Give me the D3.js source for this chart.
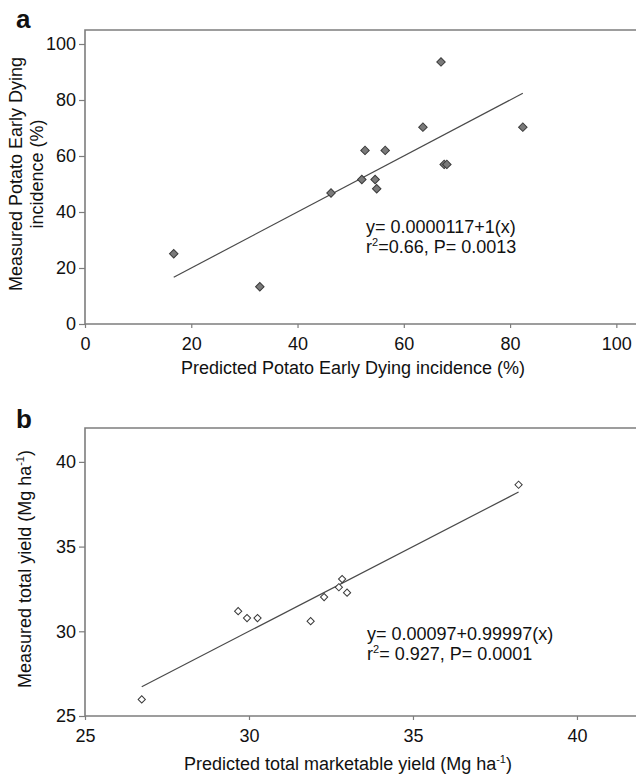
<!DOCTYPE html>
<html>
<head>
<meta charset="utf-8">
<script src="https://cdn.jsdelivr.net/npm/d3@7"></script>
<style>
  html, body { margin: 0; padding: 0; background: white; }
  svg { display: block; font-family: "Liberation Sans", Arial, sans-serif; }
</style>
</head>
<body>
<div id="chart"></div>
<script>
  // panel a: potato early dying incidence (%)
  var predictedPED = [16.7, 32.9, 46.3, 52.1, 52.7, 54.6, 54.9, 56.5, 63.6, 67.0, 67.6, 68.1, 82.4];
  var measuredPED  = [25.1, 13.3, 46.8, 51.6, 62.0, 51.6, 48.3, 62.0, 70.3, 93.6, 57.0, 57.0, 70.3];
  var pedTicks = [0, 20, 40, 60, 80, 100];
  var pedFit = { intercept: 0.0000117, slope: 1 };
  var pedStats = ["y= 0.0000117+1(x)", "=0.66, P= 0.0013"];

  // panel b: total yield (Mg ha-1)
  var predictedYield = [26.73, 29.67, 29.94, 30.26, 31.88, 32.29, 32.74, 32.84, 32.99, 38.22];
  var measuredYield  = [25.98, 31.19, 30.78, 30.78, 30.60, 32.02, 32.60, 33.08, 32.28, 38.65];
  var yieldTicks = [25, 30, 35, 40];
  var yieldFit = { intercept: 0.00097, slope: 0.99997 };
  var yieldStats = ["y= 0.00097+0.99997(x)", "= 0.927, P= 0.0001"];

  var
    WIDTH = 636,
    HEIGHT = 775,
    FRAME_COLOR = "#7d7d7d",
    LINE_COLOR = "#4a4a4a",
    TEXT_COLOR = "#111",
    FONT_SIZE = 18,
    PLOT_LEFT = 85;

  var svg = d3.select("#chart").append("svg")
    .attr("width", WIDTH)
    .attr("height", HEIGHT);

  svg.append("rect").attr("width", WIDTH).attr("height", HEIGHT).attr("fill", "white");

  function drawPanel(opt){
    var
      g = svg.append("g"),
      x = d3.scaleLinear().domain(opt.xDomain).range([PLOT_LEFT, WIDTH]),
      y = d3.scaleLinear().domain(opt.yDomain).range([opt.bottom, opt.top]);

    // frame: top, left and bottom edges (right edge falls outside the picture)
    g.append("path")
      .attr("d", "M" + WIDTH + "," + opt.top + "H" + PLOT_LEFT + "V" + opt.bottom + "H" + WIDTH)
      .attr("fill", "none")
      .attr("stroke", FRAME_COLOR)
      .attr("stroke-width", 1.6);

    var xAxis = g.append("g")
      .attr("transform", "translate(0," + opt.bottom + ")")
      .call(d3.axisBottom(x).tickValues(opt.ticks).tickSize(4).tickPadding(9).tickFormat(d3.format("d")));
    var yAxis = g.append("g")
      .attr("transform", "translate(" + PLOT_LEFT + ",0)")
      .call(d3.axisLeft(y).tickValues(opt.ticks).tickSize(6).tickPadding(3).tickFormat(d3.format("d")));

    [xAxis, yAxis].forEach(function(axis){
      axis.select(".domain").remove();
      axis.selectAll("line").attr("stroke", FRAME_COLOR).attr("stroke-width", 1.2);
      axis.selectAll("text")
        .attr("fill", TEXT_COLOR)
        .style("font-size", FONT_SIZE + "px")
        .style("font-family", '"Liberation Sans", Arial, sans-serif');
    });

    // regression line
    var xs = d3.extent(opt.px);
    g.append("line")
      .attr("x1", x(xs[0]))
      .attr("y1", y(opt.fit.intercept + opt.fit.slope * xs[0]))
      .attr("x2", x(xs[1]))
      .attr("y2", y(opt.fit.intercept + opt.fit.slope * xs[1]))
      .attr("stroke", LINE_COLOR)
      .attr("stroke-width", 1.2);

    // diamonds
    var diamond = d3.symbol().type(d3.symbolSquare).size(opt.markerSize);
    g.selectAll("path.pt")
      .data(opt.px)
      .enter().append("path")
      .attr("class", "pt")
      .attr("d", diamond)
      .attr("transform", function(d, i){
        return "translate(" + x(d) + "," + y(opt.py[i]) + ") rotate(45)";
      })
      .attr("fill", opt.markerFill)
      .attr("stroke", "#3a3a3a")
      .attr("stroke-width", 1);

    // statistics
    var stats = g.append("text")
      .attr("fill", TEXT_COLOR)
      .style("font-size", FONT_SIZE + "px");
    stats.append("tspan").attr("x", opt.statsX).attr("y", opt.statsY).text(opt.stats[0]);
    var second = stats.append("tspan").attr("x", opt.statsX).attr("y", opt.statsY + 20);
    second.append("tspan").text("r");
    second.append("tspan").attr("dy", -7).style("font-size", "11px").text("2");
    second.append("tspan").attr("dy", 7).text(opt.stats[1]);

    // panel letter
    g.append("text")
      .attr("x", 16).attr("y", opt.letterY)
      .attr("fill", TEXT_COLOR)
      .style("font-size", "26px").style("font-weight", "bold")
      .text(opt.letter);

    // x title
    var xt = g.append("text")
      .attr("x", opt.xTitleX).attr("y", opt.xTitleY)
      .attr("text-anchor", "middle")
      .attr("fill", TEXT_COLOR)
      .style("font-size", FONT_SIZE + "px");
    opt.xTitle(xt);

    // y title
    var yt = g.append("text")
      .attr("transform", "translate(0," + opt.yTitleMid + ") rotate(-90)")
      .attr("text-anchor", "middle")
      .attr("fill", TEXT_COLOR)
      .style("font-size", FONT_SIZE + "px");
    opt.yTitle(yt);
  }

  function withUnit(t, label){
    t.append("tspan").text(label + " (Mg ha");
    t.append("tspan").attr("dy", -7).style("font-size", "11px").text("-1");
    t.append("tspan").attr("dy", 7).text(")");
  }

  drawPanel({
    letter: "a", letterY: 28,
    px: predictedPED, py: measuredPED,
    xDomain: [0, 103.7], yDomain: [0, 105],
    top: 30, bottom: 324, ticks: pedTicks,
    fit: pedFit, stats: pedStats, statsX: 366, statsY: 233,
    markerSize: 36, markerFill: "#7a7a7a",
    xTitleX: 353, xTitleY: 374,
    xTitle: function(t){ t.text("Predicted Potato Early Dying incidence (%)"); },
    yTitleMid: 174,
    yTitle: function(t){
      t.append("tspan").attr("x", 0).attr("y", 22).text("Measured Potato Early Dying");
      t.append("tspan").attr("x", 0).attr("y", 43).text("incidence (%)");
    }
  });

  drawPanel({
    letter: "b", letterY: 428,
    px: predictedYield, py: measuredYield,
    xDomain: [25, 41.8], yDomain: [25, 42],
    top: 428, bottom: 716, ticks: yieldTicks,
    fit: yieldFit, stats: yieldStats, statsX: 367, statsY: 640,
    markerSize: 26, markerFill: "white",
    xTitleX: 348, xTitleY: 770,
    xTitle: function(t){ withUnit(t, "Predicted total marketable yield"); },
    yTitleMid: 569,
    yTitle: function(t){
      t.attr("y", 31);
      withUnit(t, "Measured total yield");
    }
  });
</script>
</body>
</html>
